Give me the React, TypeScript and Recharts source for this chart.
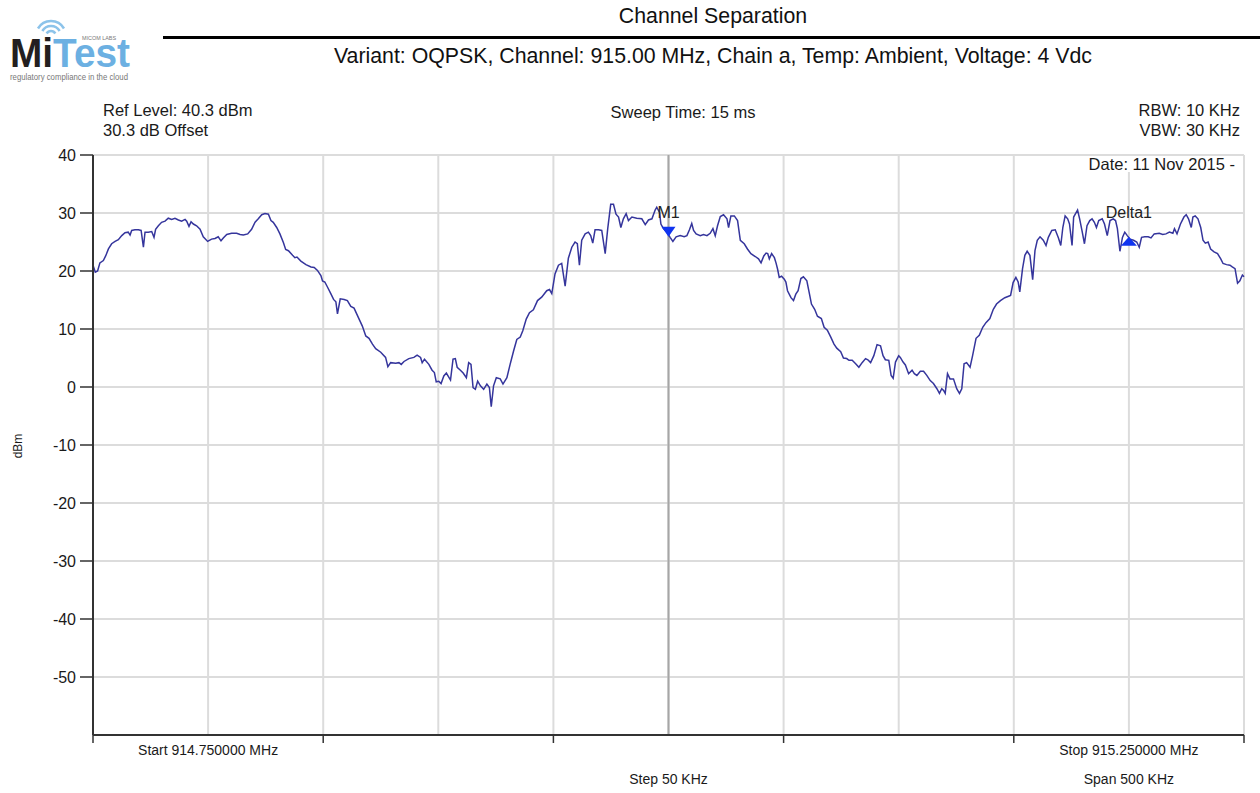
import React from 'react';
import {
  ComposedChart,
  Line,
  XAxis,
  YAxis,
  CartesianGrid,
  ReferenceLine,
  ReferenceDot,
} from 'recharts';

// trace, offset from 914.75 MHz start
const freqOffsetKHz = [
  0, 1, 2, 3, 4.5, 5.5, 6.7, 8.1, 9.6, 11, 12.5, 13.9, 15.3, 16.1, 16.8, 18.2, 19.7, 20.9, 21.9, 22.6,
  24, 25.5, 26.5, 27.2, 28.4, 29.8, 31.3, 32.7, 34.2, 35.6, 37.1, 38.5, 40, 40.7, 41.7, 42.6, 43.6, 45, 46.5, 47.9,
  49.8, 51.5, 53, 54.4, 55.6, 56.6, 58.1, 60.2, 62.4, 63.9, 65.3, 67.2, 68.9, 70.4, 71.8, 73.3, 74.7, 76.2, 77.3, 78.3,
  79.8, 81.2, 82.7, 83.7, 84.9, 86.7, 87.7, 88.6, 90.3, 92.5, 94.7, 96.1, 97.5, 99, 99.7, 100.7, 101.9, 103.3, 104.5, 105.5,
  106.2, 107.4, 109.1, 110.5, 112, 113.4, 114.9, 117, 118.5, 119.9, 121.4, 122.8, 125, 127.1, 128.1, 129.3, 131.5, 132.9, 133.9, 135.1,
  137.2, 139.4, 140.8, 142.3, 143, 144, 145.9, 147.3, 148.3, 149.1, 150.2, 151.2, 152.4, 153.5, 155.3, 156.4, 157.4, 158.2, 159.6, 160.8,
  162.2, 163.2, 164.2, 165.1, 166.1, 167.1, 168.3, 169.7, 171.1, 172.2, 173, 174, 175.2, 176.9, 178.1, 179.8, 181.2, 182.7, 184.1, 185.6,
  186.7, 188.2, 189.6, 191.3, 193.1, 194.9, 197.1, 198.3, 199.3, 200.7, 202.2, 203.6, 205.1, 206.5, 208, 209.4, 210.4, 211.3, 212.3, 213.8,
  215.2, 216.2, 217.1, 218.1, 219.6, 221, 222.5, 223.6, 224.9, 226.1, 227.2, 228.3, 229.3, 230.4, 231.6, 232.6, 234.1, 236.2, 238.4, 239.9,
  241.3, 242.8, 244.2, 244.9, 246.1, 246.7, 247.8, 249.3, 250.7, 251.9, 253.3, 255.1, 256.8, 258, 259.1, 260.1, 260.9, 262, 263.8, 265.2,
  266.7, 268.1, 269.3, 270.3, 271.3, 272.5, 273.9, 275.4, 276.1, 277.1, 278.6, 280, 281.2, 282.9, 284.3, 285.8, 287.7, 289.1, 290.2, 291.4,
  292.4, 293.1, 293.8, 294.8, 296, 296.7, 297.4, 298.1, 299.1, 300.3, 301, 301.7, 303.2, 304.3, 305.3, 306.3, 307.5, 308.6, 310.1, 311.1,
  312.1, 313.5, 314.7, 316.4, 317.6, 319, 320.5, 321.9, 323.1, 324.8, 326, 327.4, 328.4, 329.8, 331.3, 332.7, 334.1, 335.6, 336.6, 337.8,
  339.2, 340.6, 342.1, 343.2, 344.2, 345.7, 346.7, 347.6, 348.6, 350, 350.7, 351.9, 352.9, 354.3, 355.8, 356.8, 357.9, 359.4, 360.8, 362.2,
  363.7, 365.1, 366.6, 367.7, 368.7, 369.5, 370.2, 371.2, 372.3, 373.8, 375.2, 376.4, 377.4, 378.4, 379.5, 381, 382.1, 383.6, 385, 386.5,
  387.9, 389.6, 391.1, 392.5, 394.2, 396.1, 398, 398.6, 399.7, 400.9, 401.9, 402.6, 403.8, 404.8, 405.8, 407, 408.2, 409.2, 410.2, 411.4,
  412.8, 414, 415, 416.5, 418, 419.4, 420.4, 421.3, 422.3, 423.4, 424.2, 425.3, 426, 426.7, 427.7, 428.6, 429.6, 430.7, 431.8, 433,
  434, 435, 435.9, 436.9, 438.4, 439.4, 440.6, 441.8, 443.2, 444.2, 445, 446.1, 447.2, 448.2, 449.3, 450.5, 452, 453.4, 454.5, 455.5,
  456.9, 458.4, 459.6, 461, 463.2, 464.7, 466.1, 467.6, 469.1, 469.8, 470.9, 472.4, 473.9, 474.9, 475.9, 477.1, 477.8, 478.8, 480, 481.2,
  482.2, 483.2, 484.4, 485.5, 487, 488.5, 489.9, 490.9, 492.4, 493.9, 494.9, 496.1, 497.2, 498.2, 499.3, 500,
];

const levelDbm = [
  21.0, 19.8, 20.0, 21.4, 21.8, 22.6, 23.8, 24.7, 25.1, 25.4, 26.1, 26.6, 26.7, 26.2, 27.0, 27.1, 27.1, 27.0, 24.1, 26.7,
  26.7, 26.8, 25.8, 27.2, 27.8, 28.4, 28.6, 29.1, 28.9, 29.1, 28.8, 28.6, 28.9, 28.6, 27.7, 28.5, 28.1, 27.8, 27.2, 25.9,
  25.1, 25.5, 25.6, 25.9, 25.2, 25.7, 26.3, 26.5, 26.5, 26.3, 26.2, 26.4, 27.2, 28.4, 29.0, 29.7, 29.9, 29.8, 28.7, 28.4,
  27.5, 26.4, 24.9, 23.7, 23.5, 22.7, 22.3, 22.4, 21.7, 21.1, 20.7, 20.6, 20.1, 19.2, 18.3, 18.1, 17.2, 16.1, 15.1, 14.7,
  12.6, 15.2, 15.1, 14.9, 13.9, 13.6, 12.3, 10.5, 8.8, 8.4, 7.4, 6.6, 6.0, 5.1, 3.5, 4.2, 4.1, 4.2, 3.9, 4.4,
  4.9, 5.1, 5.5, 5.1, 4.2, 4.8, 3.9, 2.9, 2.5, 0.9, 1.0, 0.6, 1.9, 2.4, 1.2, 4.8, 4.9, 3.4, 2.9, 2.4,
  1.6, 4.2, 3.9, -0.1, -0.4, 1.0, 0.2, -0.4, 0.5, -0.1, -3.4, 0.2, 1.6, 1.4, 0.5, 1.6, 3.9, 6.2, 8.2, 8.6,
  9.7, 11.7, 12.8, 13.3, 14.9, 15.5, 16.6, 16.8, 16.1, 19.5, 21.0, 21.3, 17.4, 22.2, 24.1, 25.0, 24.7, 21.0, 25.3, 26.4,
  26.7, 26.1, 24.8, 27.1, 27.1, 27.0, 23.0, 27.3, 31.5, 31.5, 29.8, 29.3, 27.5, 29.0, 29.9, 28.7, 29.3, 29.1, 29.0, 28.0,
  28.8, 29.0, 30.5, 31.0, 30.1, 28.1, 27.3, 26.7, 25.8, 25.1, 25.9, 26.1, 25.9, 26.1, 27.1, 28.2, 27.0, 26.4, 26.1, 26.3,
  26.1, 26.5, 27.3, 26.1, 27.8, 29.4, 29.7, 29.0, 27.5, 29.5, 29.5, 28.7, 25.3, 24.7, 23.8, 23.0, 22.5, 22.1, 21.4, 22.6,
  23.1, 23.0, 22.1, 23.0, 22.3, 21.4, 20.3, 18.9, 19.1, 18.6, 18.1, 16.6, 15.4, 14.9, 16.0, 16.6, 18.7, 19.0, 18.3, 16.3,
  14.3, 13.4, 12.2, 11.8, 10.3, 9.8, 8.6, 7.4, 6.7, 6.1, 5.0, 4.9, 4.6, 4.6, 4.0, 3.4, 4.2, 4.9, 4.7, 4.2,
  5.4, 7.3, 7.1, 5.4, 4.7, 4.6, 2.0, 1.5, 4.3, 5.4, 5.1, 4.3, 3.8, 2.3, 2.9, 2.3, 2.0, 2.7, 2.7, 2.0,
  1.1, 0.6, -0.3, -1.1, -0.3, -0.6, -1.1, 2.3, 1.4, 1.4, -0.3, -1.1, -0.3, 4.0, 4.2, 3.4, 5.4, 8.4, 8.9, 10.3,
  11.1, 11.8, 13.4, 14.3, 14.9, 15.4, 15.7, 15.8, 18.0, 18.9, 18.1, 16.4, 20.4, 22.7, 23.4, 22.7, 18.5, 23.5, 25.3, 25.9,
  25.3, 24.4, 25.8, 27.0, 27.1, 25.7, 24.4, 27.5, 29.5, 29.0, 28.1, 24.4, 29.3, 29.8, 30.5, 29.0, 27.0, 24.7, 27.8, 28.7,
  29.0, 28.4, 27.5, 28.7, 29.0, 28.1, 26.1, 28.7, 29.0, 28.7, 27.3, 23.4, 25.8, 26.7, 26.1, 25.5, 25.3, 25.0, 24.1, 25.8,
  25.9, 25.9, 25.7, 26.4, 26.5, 26.3, 26.4, 26.7, 26.5, 27.3, 26.4, 28.1, 29.3, 29.7, 29.0, 27.5, 29.3, 29.5, 29.0, 27.5,
  25.3, 24.8, 25.0, 23.8, 23.3, 23.0, 22.1, 21.3, 21.1, 21.0, 20.7, 20.4, 17.9, 18.3, 19.3, 19.0,
];

const yTicks = [40, 30, 20, 10, 0, -10, -20, -30, -40, -50];
const gridKHz = [0, 50, 100, 150, 200, 250, 300, 350, 400, 450, 500];
const majorTickKHz = [0, 100, 200, 300, 400, 500];

const axisLabelKHz = [50, 250, 450, 450];
const axisLabelText = ['Start 914.750000 MHz', 'Step 50 KHz', 'Stop 915.250000 MHz', 'Span 500 KHz'];
const axisLabelRow = [0, 1, 0, 1];

const markerNames = ['M1', 'Delta1'];
const markerKHz = [250, 450];
const markerDbm = [25.9, 25.9];
const markerPointsDown = [true, false];

const data = freqOffsetKHz.map((f, i) => ({ f, level: levelDbm[i] }));

const FONT = '"Liberation Sans", Arial, sans-serif';

function FreqTick(props: any) {
  const { x, y, payload } = props;
  const v = payload.value;
  const rows: number[] = [];
  axisLabelKHz.forEach((k, i) => {
    if (k === v) rows.push(i);
  });
  return (
    <g>
      {majorTickKHz.includes(v) && (
        <line x1={x} y1={y} x2={x} y2={y + 8} stroke="#333" strokeWidth={1.5} />
      )}
      {rows.map((i) => (
        <text
          key={i}
          x={x}
          y={y + 20 + axisLabelRow[i] * 29}
          textAnchor="middle"
          fontSize={14}
          fontFamily={FONT}
          fill="#1a1a1a"
        >
          {axisLabelText[i]}
        </text>
      ))}
    </g>
  );
}

function MarkerShape({ cx, cy, idx }: any) {
  const down = markerPointsDown[idx];
  const pts = down
    ? `${cx - 7},${cy - 10} ${cx + 7},${cy - 10} ${cx},${cy}`
    : `${cx - 8},${cy + 9} ${cx + 8},${cy + 9} ${cx},${cy}`;
  return (
    <g>
      <polygon points={pts} fill="#1034f0" />
      <text x={cx} y={cy - 19} textAnchor="middle" fontSize={16} fontFamily={FONT} fill="#222">
        {markerNames[idx]}
      </text>
    </g>
  );
}

function Logo() {
  const cx = 51;
  const cy = 36;
  const arc = (r: number) =>
    `M ${cx - 0.866 * r} ${cy - 0.5 * r} A ${r} ${r} 0 0 1 ${cx + 0.866 * r} ${cy - 0.5 * r}`;
  return (
    <svg width={160} height={88} style={{ position: 'absolute', left: 0, top: 0 }}>
      {[5, 10, 15].map((r) => (
        <path key={r} d={arc(r)} fill="none" stroke="#8cc3ea" strokeWidth={2.5} />
      ))}
      <text
        x={10}
        y={67}
        fontFamily={FONT}
        fontWeight="bold"
        fontSize={40}
        textLength={120}
        lengthAdjust="spacingAndGlyphs"
      >
        <tspan fill="#231f20">Mi</tspan>
        <tspan fill="#6cb0e2">Test</tspan>
      </text>
      <text x={82} y={40} fontFamily={FONT} fontSize={5} fill="#777" textLength={34} lengthAdjust="spacingAndGlyphs">
        MICOM LABS
      </text>
      <text x={10} y={80} fontFamily={FONT} fontSize={8.5} fill="#777" textLength={118} lengthAdjust="spacingAndGlyphs">
        regulatory compliance in the cloud
      </text>
    </svg>
  );
}

const small: React.CSSProperties = {
  position: 'absolute',
  fontFamily: FONT,
  fontSize: 16.5,
  lineHeight: '16px',
  color: '#1a1a1a',
  whiteSpace: 'nowrap',
};

const heading: React.CSSProperties = {
  ...small,
  left: 166,
  width: 1094,
  fontSize: 21.3,
  lineHeight: '21px',
  textAlign: 'center',
  color: '#111',
};

export default function App() {
  return (
    <div
      style={{
        position: 'absolute',
        left: 0,
        top: 0,
        width: 1260,
        height: 793,
        background: '#fff',
        overflow: 'hidden',
      }}
    >
      <Logo />
      <div style={{ ...heading, top: 6 }}>Channel Separation</div>
      <div style={{ position: 'absolute', left: 163, top: 36, width: 1097, height: 3, background: '#000' }} />
      <div style={{ ...heading, top: 46 }}>
        Variant: OQPSK, Channel: 915.00 MHz, Chain a, Temp: Ambient, Voltage: 4 Vdc
      </div>
      <div style={{ ...small, left: 103, top: 102 }}>Ref Level: 40.3 dBm</div>
      <div style={{ ...small, left: 103, top: 122 }}>30.3 dB Offset</div>
      <div style={{ ...small, left: 583, width: 200, top: 104, textAlign: 'center' }}>Sweep Time: 15 ms</div>
      <div style={{ ...small, right: 20, top: 102, textAlign: 'right' }}>RBW: 10 KHz</div>
      <div style={{ ...small, right: 20, top: 122, textAlign: 'right' }}>VBW: 30 KHz</div>
      <div
        style={{
          ...small,
          left: 3,
          top: 440,
          width: 30,
          fontSize: 12,
          lineHeight: '12px',
          textAlign: 'center',
          transform: 'rotate(-90deg)',
        }}
      >
        dBm
      </div>

      <div style={{ position: 'absolute', left: 0, top: 0 }}>
        <ComposedChart width={1260} height={793} data={data} margin={{ top: 155, right: 16, bottom: 0, left: 0 }}>
          <CartesianGrid stroke="#dcdcdc" strokeWidth={2} />
          <XAxis
            dataKey="f"
            type="number"
            domain={[0, 500]}
            ticks={gridKHz}
            interval={0}
            height={58}
            tickLine={false}
            tickSize={0}
            tickMargin={0}
            tick={<FreqTick />}
            axisLine={{ stroke: '#333', strokeWidth: 2 }}
          />
          <YAxis
            type="number"
            domain={[-60, 40]}
            ticks={yTicks}
            interval={0}
            width={93}
            tickSize={13}
            tickMargin={4}
            tickLine={{ stroke: '#333', strokeWidth: 1.5 }}
            axisLine={{ stroke: '#333', strokeWidth: 2 }}
            tick={{ fontSize: 16, fill: '#1a1a1a', fontFamily: FONT }}
          />
          <ReferenceLine x={250} stroke="#a6a6a6" strokeWidth={2} />
          <Line
            type="linear"
            dataKey="level"
            stroke="#35359c"
            strokeWidth={1.5}
            dot={false}
            isAnimationActive={false}
          />
          {markerKHz.map((k, i) => (
            <ReferenceDot
              key={markerNames[i]}
              x={k}
              y={markerDbm[i]}
              r={8}
              shape={(p: any) => <MarkerShape {...p} idx={i} />}
            />
          ))}
        </ComposedChart>
      </div>
      <div style={{ ...small, right: 25, top: 156, textAlign: 'right', background: '#fff' }}>Date: 11 Nov 2015 -</div>
    </div>
  );
}
